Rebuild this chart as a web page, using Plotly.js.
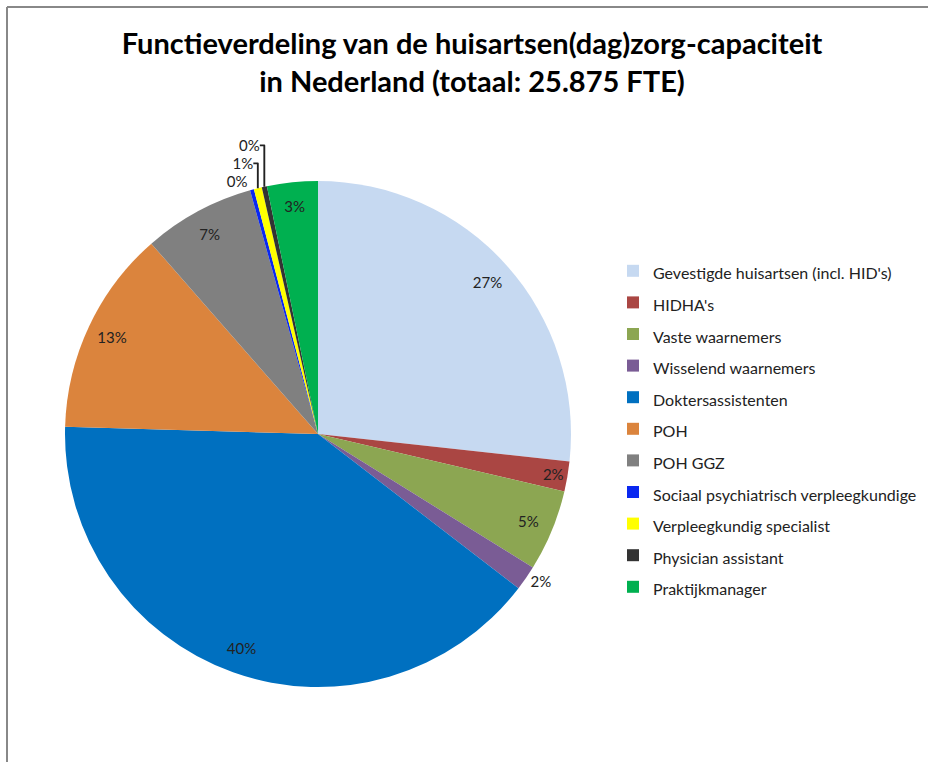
<!DOCTYPE html>
<html>
<head>
<meta charset="utf-8">
<script src="https://cdn.plot.ly/plotly-3.0.1.min.js"></script>
<style>html,body{margin:0;padding:0;background:#fff;}#chart{width:928px;height:762px;}</style>
</head>
<body>
<div id="chart"></div>
<script>
// Categories (legend labels)
const categories = [
  "Gevestigde huisartsen (incl. HID's)",
  "HIDHA's",
  "Vaste waarnemers",
  "Wisselend waarnemers",
  "Doktersassistenten",
  "POH",
  "POH GGZ",
  "Sociaal psychiatrisch verpleegkundige",
  "Verpleegkundig specialist",
  "Physician assistant",
  "Praktijkmanager"
];
// Estimated FTE per function (total ≈ 25.875 FTE)
const fteValues = [6919, 494, 1346, 411, 10355, 3387, 1842, 65, 132, 85, 838];
const sliceColors = ["#C6D9F1", "#AA4643", "#8CA652", "#7A5C95", "#0070C0", "#DB843D", "#808080", "#0A28F0", "#FFFF00", "#333333", "#00B050"];
const labelPositions = ["inside","inside","inside","outside","inside","inside","inside","outside","outside","outside","inside"];

const FONT = "Lato, 'Open Sans', sans-serif";
const legendLabels = categories.map(c => '<span style="font-size:16px">' + c + '</span>');
const pieDomain = {x: [65/928, 571/928], y: [(762-687)/762, (762-181)/762]};

// Base pie: the coloured slices + legend
const pieTrace = {
  type: "pie",
  labels: legendLabels,
  values: fteValues,
  sort: false,
  direction: "clockwise",
  rotation: 0,
  marker: {colors: sliceColors, line: {width: 0}},
  textinfo: "none",
  domain: pieDomain,
  hoverinfo: "label+value+percent"
};

// Transparent ring over the same data, only to place the percentage labels near the rim
const labelTrace = {
  type: "pie",
  labels: legendLabels,
  values: fteValues,
  sort: false,
  direction: "clockwise",
  rotation: 0,
  hole: 0.80,
  showlegend: false,
  marker: {colors: categories.map(() => "rgba(0,0,0,0)"), line: {width: 0}},
  texttemplate: "%{percent:.0%}",
  textposition: labelPositions,
  insidetextorientation: "horizontal",
  textfont: {family: FONT, size: 15, color: "#222"},
  outsidetextfont: {family: FONT, size: 15, color: "#222"},
  domain: pieDomain,
  hoverinfo: "skip"
};

const layout = {
  width: 928, height: 762,
  margin: {l: 0, r: 0, t: 0, b: 0},
  paper_bgcolor: "#fff",
  font: {family: FONT, color: "#000"},
  title: {
    text: "<b>Functieverdeling van de huisartsen(dag)zorg-capaciteit<br>in Nederland (totaal: 25.875 FTE)</b>",
    font: {family: FONT, size: 29, color: "#000"},
    x: 472/928, xanchor: "center",
    y: 1 - 54/762, yanchor: "top", yref: "container"
  },
  showlegend: true,
  legend: {
    x: 613/928, xanchor: "left",
    y: (762-250)/762, yanchor: "top",
    font: {family: FONT, size: 22, color: "#222"},
    bgcolor: "rgba(0,0,0,0)"
  },
  shapes: [
    {type: "line", xref: "paper", yref: "paper", x0: 7/928, x1: 7/928, y0: 0, y1: (762-7)/762, line: {color: "#888", width: 2}},
    {type: "line", xref: "paper", yref: "paper", x0: 7/928, x1: 1, y0: (762-7)/762, y1: (762-7)/762, line: {color: "#888", width: 2}}
  ]
};

Plotly.newPlot("chart", [pieTrace, labelTrace], layout, {displayModeBar: false, staticPlot: true});
</script>
</body>
</html>
